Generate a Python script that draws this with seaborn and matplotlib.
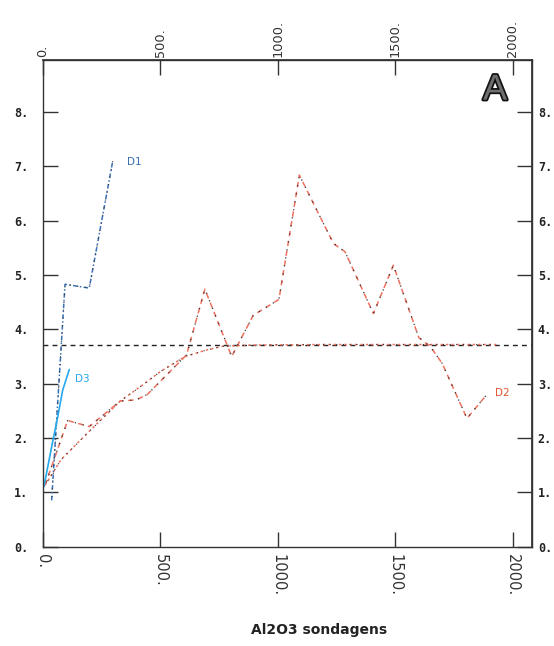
import matplotlib
matplotlib.use("Agg")
import matplotlib.pyplot as plt
import matplotlib.patheffects as pe
import numpy as np
import pandas as pd
import seaborn as sns

# --- series values -------------------------------------------------------
d1_x = [38, 95, 198, 298]
d1_y = [0.85, 4.83, 4.76, 7.10]

d3_x = [5, 45, 64, 85, 113]
d3_y = [1.10, 1.99, 2.39, 2.88, 3.26]

d2_x = [10, 106, 198, 330, 397, 445, 612, 690, 804, 896, 1005, 1092,
        1237, 1286, 1407, 1492, 1600, 1650, 1700, 1805, 1890]
d2_y = [1.13, 2.32, 2.21, 2.68, 2.70, 2.80, 3.53, 4.74, 3.50, 4.26, 4.55, 6.84,
        5.58, 5.43, 4.29, 5.18, 3.85, 3.68, 3.37, 2.36, 2.80]

# running mean of D2
mean_x = [10, 78, 200, 330, 414, 500, 606, 698, 768, 900, 1200, 1500, 1930]
mean_y = [1.13, 1.60, 2.13, 2.68, 2.94, 3.22, 3.50, 3.62, 3.69, 3.71, 3.72, 3.72, 3.72]

mean_level = 3.72

series_labels = ["D1", "D2", "D3"]
x_ticks = [0, 500, 1000, 1500, 2000]
x_tick_labels = ["0.", "500.", "1000.", "1500.", "2000."]
y_ticks = [0, 1, 2, 3, 4, 5, 6, 7, 8]
y_tick_labels = [f"{v}." for v in y_ticks]
x_title = "Al2O3 sondagens"
panel_letter = "A"

# --- figure --------------------------------------------------------------
sns.set_theme(style="white")
plt.rcParams["font.family"] = ["DejaVu Sans"]

fig = plt.figure(figsize=(5.54, 6.46), dpi=100)
ax = fig.add_axes([0.0771, 0.154, 0.8837, 0.7531])

df1 = pd.DataFrame({"x": d1_x, "y": d1_y})
df2 = pd.DataFrame({"x": d2_x, "y": d2_y})
df3 = pd.DataFrame({"x": d3_x, "y": d3_y})
dfm = pd.DataFrame({"x": mean_x, "y": mean_y})

blue_dark = "#3a6fb5"
blue_light = "#27a8ec"
red = "#f0705e"
ink = "#333333"

# horizontal mean level
ax.axhline(mean_level, color="#222222", lw=1.0, linestyle=(0, (3.5, 3)))

# running mean: red dots with black dots between
sns.lineplot(data=dfm, x="x", y="y", sort=False, estimator=None, ax=ax,
             color=red, lw=1.1, linestyle=(0, (1.5, 2.0)))
sns.lineplot(data=dfm, x="x", y="y", sort=False, estimator=None, ax=ax,
             color=ink, lw=0.8, linestyle=(1.75, (1.0, 5.0)))

# D2: red dashes alternating with black dots
sns.lineplot(data=df2, x="x", y="y", sort=False, estimator=None, ax=ax,
             color=red, lw=1.1, linestyle=(0, (3.5, 3.0)))
sns.lineplot(data=df2, x="x", y="y", sort=False, estimator=None, ax=ax,
             color=ink, lw=0.9, linestyle=(4.3, (1.0, 5.5)))

# D1: blue dash-dot
sns.lineplot(data=df1, x="x", y="y", sort=False, estimator=None, ax=ax,
             color=blue_dark, lw=1.1, linestyle=(0, (3, 1.5, 1, 1.5)))
sns.lineplot(data=df1, x="x", y="y", sort=False, estimator=None, ax=ax,
             color=ink, lw=0.8, linestyle=(4, (1, 6)))

# D3: light blue solid
sns.lineplot(data=df3, x="x", y="y", sort=False, estimator=None, ax=ax,
             color=blue_light, lw=1.2)

# series labels
ax.text(357, 7.08, series_labels[0], color=blue_dark, fontsize=7.5,
        ha="left", va="center")
ax.text(139, 3.08, series_labels[2], color=blue_light, fontsize=7.5,
        ha="left", va="center")
ax.text(1925, 2.82, series_labels[1], color="#e0582c", fontsize=7.5,
        ha="left", va="center")

# panel letter
ax.text(0.924, 0.938, panel_letter, transform=ax.transAxes, fontsize=26,
        ha="center", va="center", color="#6e6e6e", family="Liberation Sans",
        path_effects=[pe.withStroke(linewidth=2.5, foreground="#111111")])

# --- axes ----------------------------------------------------------------
ax.set_xlim(0, 2083)
ax.set_ylim(0, 8.96)
ax.set_xlabel("")
ax.set_ylabel("")

for s in ax.spines.values():
    s.set_visible(True)
    s.set_color(ink)
    s.set_linewidth(1.0)

ax.set_xticks(x_ticks)
ax.set_xticklabels(x_tick_labels, rotation=270, fontsize=10.5,
                   ha="center", va="top", color=ink)
ax.set_yticks(y_ticks)
ax.set_yticklabels(y_tick_labels, fontsize=8.5, family="DejaVu Sans Mono",
                   fontweight="bold", color="#222222")
ax.tick_params(axis="x", direction="in", length=11, width=1.0, color=ink,
               pad=5.4, bottom=True, top=False)
ax.tick_params(axis="y", direction="in", length=10.5, width=1.0, color=ink,
               pad=10.4, left=True, right=False)

top = ax.secondary_xaxis("top")
top.set_xticks(x_ticks)
top.set_xticklabels(x_tick_labels, rotation=90, fontsize=9.3,
                    ha="center", va="bottom", color=ink)
top.tick_params(axis="x", direction="in", length=11, width=1.0,
                color=ink, pad=2.5)
top.spines["top"].set_color(ink)

right = ax.secondary_yaxis("right")
right.set_yticks(y_ticks)
right.set_yticklabels(y_tick_labels, fontsize=8.5, family="DejaVu Sans Mono",
                      fontweight="bold", color="#222222")
right.tick_params(axis="y", direction="in", length=10.5, width=1.0,
                  color=ink, pad=4.0)
right.spines["right"].set_color(ink)

fig.text(319 / 554, 1 - 630 / 646, x_title, ha="center", va="center",
         fontsize=10, fontweight="bold", color="#222222")

fig.savefig("out.png", dpi=100, facecolor="white")
